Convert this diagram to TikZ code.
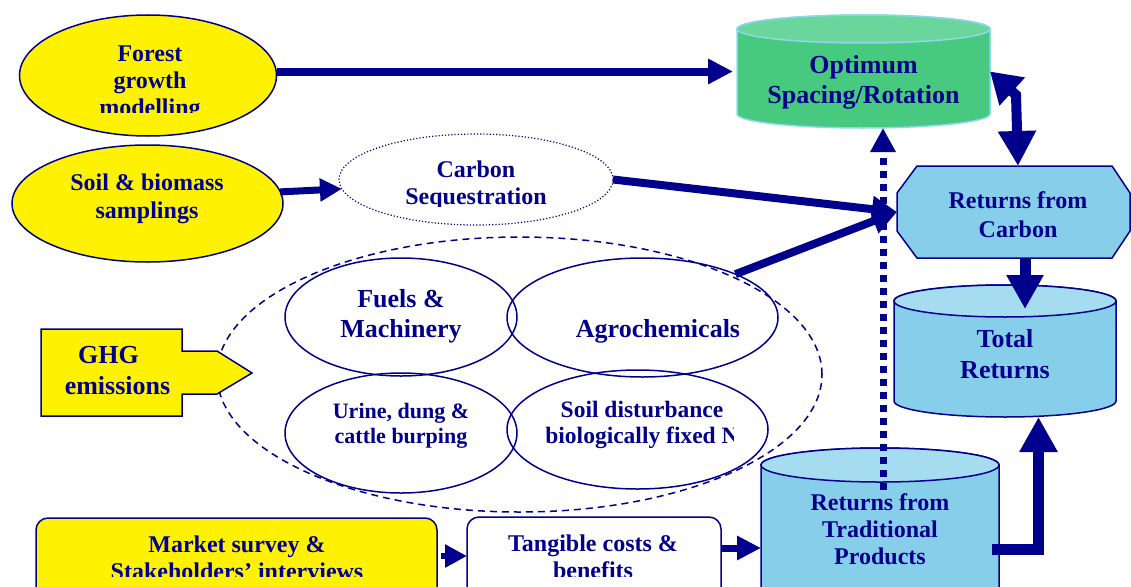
\documentclass[tikz,border=0pt]{standalone}
\usepackage{fontspec}
\setmainfont{Liberation Serif}
\usetikzlibrary{arrows.meta,shapes.geometric}
\definecolor{navy}{RGB}{0,0,140}
\definecolor{gbody}{RGB}{72,201,128}
\definecolor{gtop}{RGB}{107,214,155}
\definecolor{gline}{RGB}{140,215,235}
\definecolor{sky}{RGB}{135,206,235}
\definecolor{skytop}{RGB}{165,220,240}
\newcommand\myfs[2]{\fontsize{#1}{#2}\selectfont}
\begin{document}
\begin{tikzpicture}[x=1pt,y=-1pt,
  txt/.style={font=\bfseries, text=navy, align=center, inner sep=0pt, anchor=base},
  shp/.style={draw=navy, line width=1.5pt},
  blank/.style={inner sep=0pt, outer sep=0pt},
  oval/.style={ellipse, blank, shp},
]
\clip (0,0) rectangle (1131,586);
\fill[white] (0,0) rectangle (1131,586);

% invisible frames for drawn shapes
\node[blank, minimum width=253pt, minimum height=113pt] (opt) at (863.5,71.5) {};
\node[blank, minimum width=233pt, minimum height=92pt] (rc) at (1013.5,212) {};
\node[blank, minimum width=222pt, minimum height=132pt] (tr) at (1005,351) {};
\node[blank, minimum width=238pt, minimum height=146pt] (trad) at (880,520) {};

% ellipses
\node[oval, fill=yellow, minimum width=257pt, minimum height=121pt] (fg) at (148,75.5) {};
\node[oval, fill=yellow, minimum width=271pt, minimum height=117pt] (sb) at (147.5,203.5) {};
\node[oval, draw=navy, line width=1.2pt, dash pattern=on 1.2pt off 2pt, minimum width=274pt, minimum height=91pt] (cs) at (476,179.5) {};
\node[oval, line width=1.5pt, dash pattern=on 7pt off 5pt, minimum width=605pt, minimum height=275pt] (ghgset) at (519.5,374.5) {};
\node[oval, minimum width=232pt, minimum height=118pt] (fm) at (401,317) {};
\node[oval, minimum width=271pt, minimum height=119pt] (ag) at (642.5,317.5) {};
\node[oval, minimum width=232pt, minimum height=120pt] (ur) at (401,433) {};
\node[oval, minimum width=261pt, minimum height=119pt] (sd) at (637.5,429.5) {};

% GHG arrow box
\draw[shp, fill=yellow] (41,329) -- (182,329) -- (182,351) -- (217,351) -- (252,373)
  -- (217,394) -- (182,394) -- (182,416) -- (41,416) -- cycle;

% bottom boxes
\node[blank, shp, fill=yellow, rounded corners=12pt, minimum width=401pt, minimum height=100pt] (ms) at (236.5,568) {};
\node[blank, shp, fill=white, rounded corners=12pt, minimum width=254pt, minimum height=100pt] (tg) at (594,567) {};

% cylinder: optimum
\draw[draw=gline, line width=1.5pt, fill=gbody] (737,29) -- (737,114)
  arc[start angle=180, end angle=360, x radius=126.5pt, y radius=14pt] -- (990,29)
  arc[start angle=0, end angle=180, x radius=126.5pt, y radius=14pt] -- cycle;
\draw[draw=gline, line width=1.5pt, fill=gtop] (863.5,29) ellipse[x radius=126.5pt, y radius=14pt];
% cylinder: total returns
\draw[shp, fill=sky] (894,301) -- (894,401)
  arc[start angle=180, end angle=360, x radius=111pt, y radius=16pt] -- (1116,301)
  arc[start angle=0, end angle=180, x radius=111pt, y radius=16pt] -- cycle;
\draw[shp, fill=skytop] (1005,301) ellipse[x radius=111pt, y radius=16pt];
% cylinder: traditional products
\draw[shp, fill=sky] (761,465) -- (761,620)
  arc[start angle=180, end angle=360, x radius=119pt, y radius=17pt] -- (999,465)
  arc[start angle=0, end angle=180, x radius=119pt, y radius=17pt] -- cycle;
\draw[shp, fill=skytop] (880,465) ellipse[x radius=119pt, y radius=17pt];
% octagon: returns from carbon
\draw[shp, fill=sky] ([xshift=20pt]rc.north west) -- ([xshift=-18pt]rc.north east)
  -- ([yshift=-27pt]rc.north east) -- ([yshift=27pt]rc.south east)
  -- ([xshift=-18pt]rc.south east) -- ([xshift=20pt]rc.south west)
  -- ([yshift=27pt]rc.south west) -- ([yshift=-27pt]rc.north west) -- cycle;

% texts (anchor = baseline of the last line)
\begin{scope}
  \clip (0,0) rectangle (1131,112);
  \node[txt, font=\bfseries\myfs{24}{27}] (fgt) at (150,115) {Forest\\growth\\modelling};
\end{scope}
\node[txt, font=\bfseries\myfs{24}{28}] (sbt) at (147,218) {Soil \& biomass\\samplings};
\begin{scope}
  \clip (0,0) rectangle (1131,206);
  \node[txt, font=\bfseries\myfs{24}{27}] (cst) at (476,204) {Carbon\\Sequestration};
\end{scope}
\node[txt, font=\bfseries\myfs{26}{30}] (optt) at (863.5,103) {Optimum\\Spacing/Rotation};
\node[txt, font=\bfseries\myfs{24}{29}] (rct) at (1018,237) {Returns from\\Carbon};
\node[txt, font=\bfseries\myfs{26}{31}] (trt) at (1005,378) {Total\\Returns};
\node[txt, font=\bfseries\myfs{24}{27}] (tradt) at (880,564) {Returns from\\Traditional\\Products};
\node[txt, font=\bfseries\myfs{26}{30}] (fmt) at (401,337) {Fuels \&\\Machinery};
\node[txt, font=\bfseries\myfs{26}{30}] (agt) at (658,337) {Agrochemicals};
\node[txt, font=\bfseries\myfs{22}{25}] (urt) at (401,443) {Urine, dung \&\\cattle burping};
\begin{scope}
  \clip (0,0) rectangle (733,586);
  \node[txt, font=\bfseries\myfs{23.5}{26}] (sdt) at (642,443) {Soil disturbance\\biologically fixed N};
\end{scope}
\node[txt, font=\bfseries\myfs{26}{31}] (ghgt) at (117.5,394) {GHG\rule{18pt}{0pt}\\emissions};
\begin{scope}
  \clip (0,0) rectangle (1131,576);
  \node[txt, font=\bfseries\myfs{24}{27}] (mst) at (237,579) {Market survey \&\\Stakeholders’ interviews};
  \node[txt, font=\bfseries\myfs{24}{27}] (tgt) at (593,578) {Tangible costs \&\\benefits};
\end{scope}

% connectors
\draw[navy, line width=8pt, -{Triangle[length=25pt,width=24pt]}, shorten >=4pt] (fg.east |- opt.west) -- (opt.west);
\draw[navy, line width=7pt, -{Triangle[length=22pt,width=22pt]}] (sb.5) -- (cs.184);
\draw[navy, line width=8pt, -{Triangle[length=25pt,width=25pt]}] (cs.east) -- (rc.west);
\draw[navy, line width=8pt, -{Triangle[length=25pt,width=25pt]}] (ag.25) -- (rc.west);
\coordinate (ds) at (883,490);
\draw[navy, line width=7pt, dash pattern=on 7pt off 6pt, -{Triangle[length=24pt,width=24pt]}] (ds) -- (ds |- opt.south);
\coordinate (bend) at (1016,95);
\draw[navy, line width=10pt, {Triangle[length=30pt,width=36pt]}-{Triangle[length=35pt,width=36pt]}] (opt.east) -- (bend) -- ([xshift=4.5pt]rc.north);
\draw[navy, line width=11pt, -{Triangle[length=34pt,width=35pt]}] ([xshift=11.5pt]rc.south) -- ([xshift=20pt,yshift=-24pt]tr.north);
\coordinate (ts) at (992,549);
\draw[navy, line width=11pt, -{Triangle[length=35pt,width=36pt]}] (ts) -| ([xshift=33.5pt]tr.south);
\coordinate (mse) at ([yshift=12pt]ms.east);
\draw[navy, line width=6pt, -{Triangle[length=22pt,width=22pt]}, shorten <=4pt] (mse) -- (mse -| tg.west);
\coordinate (tge) at ([yshift=19pt]tg.east);
\draw[navy, line width=7pt, -{Triangle[length=24pt,width=23pt]}] (tge) -- (tge -| trad.west);
\end{tikzpicture}
\end{document}
